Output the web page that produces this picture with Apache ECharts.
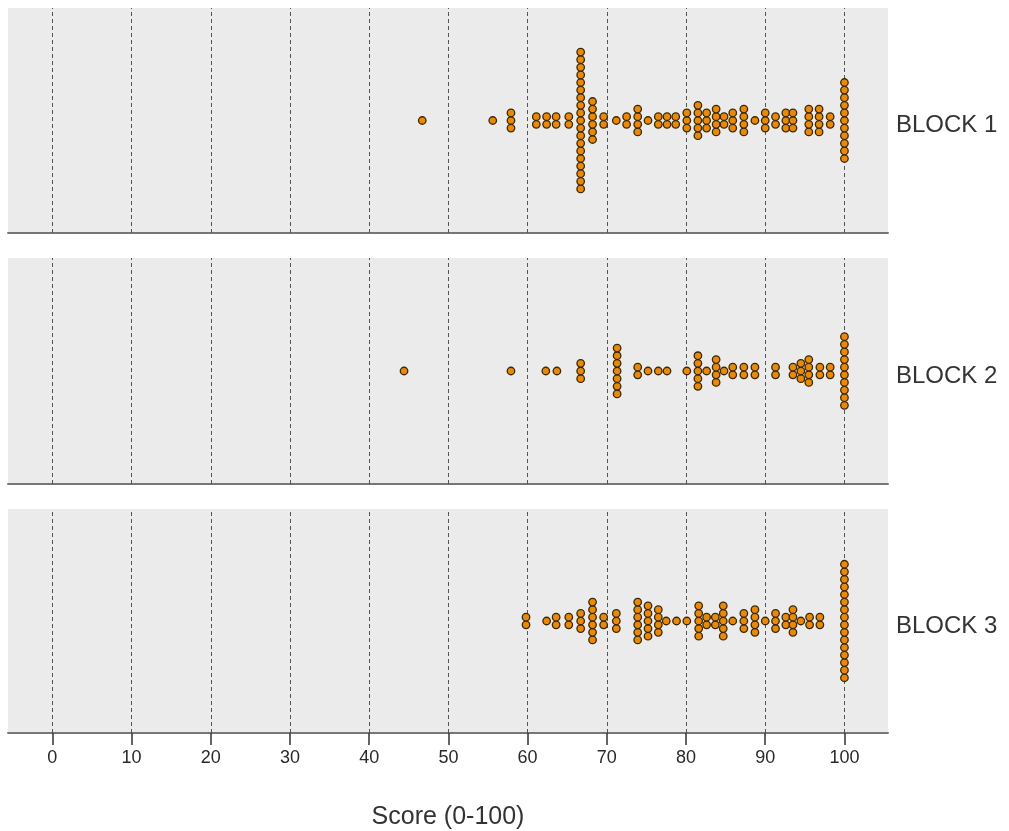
<!DOCTYPE html>
<html>
<head>
<meta charset="utf-8">
<title>Score by block</title>
<script src="https://cdn.jsdelivr.net/npm/echarts@6/dist/echarts.min.js"></script>
<style>
    html,body{margin:0;padding:0;background:#fff;}
    #main{width:1009px;height:831px;}
</style>
</head>
<body>
<div id="main"></div>
<script>
/*数据: 每列的分数和点的个数*/
var blockNames = ['BLOCK 1', 'BLOCK 2', 'BLOCK 3'];
var xTicks = [0, 10, 20, 30, 40, 50, 60, 70, 80, 90, 100];

var block1Scores = [46.7, 55.6, 57.9, 61.1, 62.4, 63.6, 65.2, 66.7, 68.2, 69.6, 71.2, 72.5, 73.9, 75.2, 76.5, 77.6, 78.7, 80.1, 81.5, 82.6, 83.8, 84.8, 85.9, 87.3, 88.7, 90.0, 91.3, 92.6, 93.5, 95.5, 96.8, 98.2, 100];
var block1Counts = [1, 1, 3, 2, 2, 2, 2, 19, 6, 2, 1, 2, 4, 1, 2, 2, 2, 3, 5, 3, 4, 2, 3, 4, 1, 3, 2, 3, 3, 4, 4, 2, 11];

var block2Scores = [44.4, 57.9, 62.3, 63.7, 66.7, 71.3, 73.9, 75.2, 76.5, 77.6, 80.1, 81.5, 82.6, 83.8, 84.8, 85.9, 87.3, 88.7, 91.3, 93.5, 94.5, 95.5, 96.9, 98.2, 100];
var block2Counts = [1, 1, 1, 1, 3, 7, 2, 1, 1, 1, 1, 5, 1, 4, 1, 2, 2, 2, 2, 2, 3, 4, 2, 2, 10];

var block3Scores = [59.8, 62.4, 63.6, 65.2, 66.7, 68.2, 69.6, 71.2, 73.9, 75.2, 76.5, 77.5, 78.8, 80.1, 81.6, 82.6, 83.7, 84.7, 85.9, 87.3, 88.7, 90.0, 91.3, 92.6, 93.5, 94.5, 95.6, 96.9, 100];
var block3Counts = [2, 1, 2, 2, 3, 6, 2, 3, 6, 5, 4, 1, 1, 1, 5, 2, 2, 5, 1, 3, 4, 1, 3, 2, 4, 1, 2, 2, 16];

var font = '"Liberation Sans", Arial, sans-serif';

//把每列的点上下对称地堆起来
function stackDots(scores, counts){
    var pts = [];
    for(var i=0;i<scores.length;i++){
        var n = counts[i];
        for(var k=0;k<n;k++){
            pts.push([scores[i], k-(n-1)/2]);
        }
    }
    return pts;
}

/*画图*/
function paintForm(){
    var myChart = echarts.init(document.getElementById('main'));
    var allScores = [block1Scores, block2Scores, block3Scores];
    var allCounts = [block1Counts, block2Counts, block3Counts];
    var tops = [8, 258, 509];
    var heights = [225, 226, 225];
    var grid = [], xAxis = [], yAxis = [], series = [];

    for(var b=0;b<3;b++){
        var last = (b==2);
        grid.push({
            left: 8, width: 880, top: tops[b], height: heights[b],
            show: true, backgroundColor: '#ebebeb', borderWidth: 0
        });
        xAxis.push({
            type: 'value', gridIndex: b,
            min: -5.6, max: 105.5,
            splitLine: {show: false},
            axisLine: {show: true, onZero: false, lineStyle: {color: '#777', width: 2}},
            axisTick: {show: last, customValues: xTicks, length: 12, lineStyle: {color: '#333', width: 1.5}},
            axisLabel: {show: last, customValues: xTicks, margin: 16, fontSize: 18, color: '#2a2a2a', fontFamily: font},
            name: last ? 'Score (0-100)' : '',
            nameLocation: 'middle', nameGap: 72,
            nameTextStyle: {fontSize: 25, color: '#333', fontFamily: font}
        });
        yAxis.push({
            type: 'value', gridIndex: b, min: -14.8, max: 14.8, show: false
        });
        yAxis.push({
            type: 'category', gridIndex: b, position: 'right',
            data: [blockNames[b]],
            axisLine: {show: false}, axisTick: {show: false}, splitLine: {show: false},
            axisLabel: {margin: 8, fontSize: 24, color: '#333', fontFamily: font, verticalAlign: 'top', lineHeight: 10}
        });
        series.push({
            type: 'scatter',
            xAxisIndex: b, yAxisIndex: b*2,
            symbol: 'circle', symbolSize: 7.5,
            z: 3,
            itemStyle: {color: '#e8890a', borderColor: '#3a2808', borderWidth: 1.3, opacity: 1},
            data: stackDots(allScores[b], allCounts[b]),
            markLine: {
                silent: true, z: 1,
                symbol: ['none', 'none'],
                label: {show: false},
                lineStyle: {color: '#555', width: 1, type: [4, 3]},
                data: xTicks.map(function(v){ return {xAxis: v}; })
            }
        });
    }

    var option = {
        animation: false,
        backgroundColor: '#fff',
        grid: grid,
        xAxis: xAxis,
        yAxis: yAxis,
        series: series
    };
    myChart.setOption(option);
}

paintForm();
</script>
</body>
</html>
